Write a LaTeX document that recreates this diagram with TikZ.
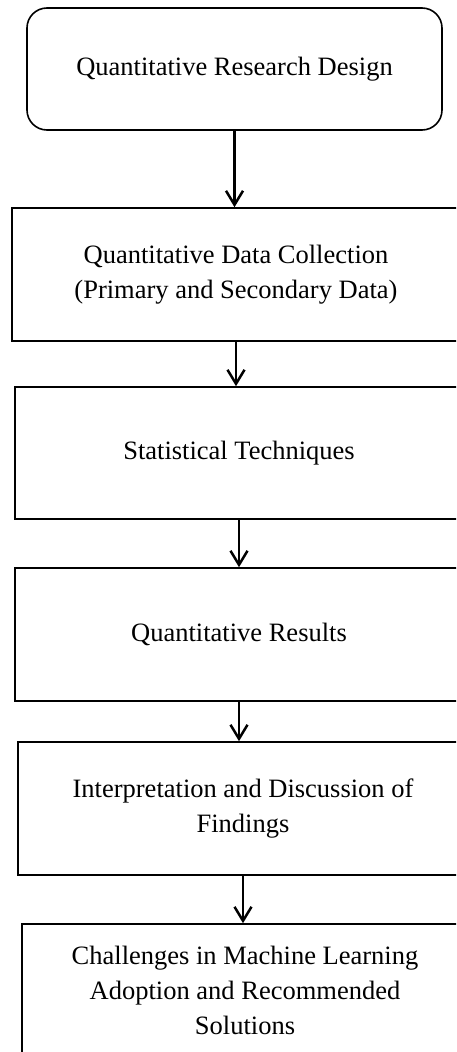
\documentclass[tikz,border=0pt]{standalone}
\usepackage{fontspec}
\setmainfont{Liberation Serif}
\usetikzlibrary{arrows.meta}
\begin{document}
\begin{tikzpicture}[x=1pt,y=-1pt,
  box/.style={draw=black, line width=1.6pt, inner sep=0pt, align=center,
    font=\fontsize{26.5}{35}\selectfont, fill=white},
  flow/.style={line width=2.5pt, -{Straight Barb[length=14pt,width=17pt,line width=2.5pt]}}]
\useasboundingbox (0,0) rectangle (456,1052);
\clip (0,0) rectangle (456,1052);
\fill[white] (0,0) rectangle (456,1052);
\node[box, rounded corners=20pt, minimum width=415pt, minimum height=122pt] (b1) at (234.5,69) {Quantitative Research Design};
\node[box, minimum width=448pt, minimum height=133pt] (b2) at (236,274.5) {Quantitative Data Collection\\(Primary and Secondary Data)};
\node[box, minimum width=448pt, minimum height=132pt] (b3) at (239,453) {Statistical Techniques};
\node[box, minimum width=448pt, minimum height=133pt] (b4) at (239,634.5) {Quantitative Results};
\node[box, minimum width=450pt, minimum height=133pt] (b5) at (243,808.5) {Interpretation and Discussion of\\Findings};
\node[box, minimum width=446pt, minimum height=132pt] (b6) at (245,990) {Challenges in Machine Learning\\Adoption and Recommended\\Solutions};
\draw[flow] (b1.south) -- (b1.south |- b2.north);
\draw[flow] (b2.south) -- (b2.south |- b3.north);
\draw[flow] (b3.south) -- (b3.south |- b4.north);
\draw[flow] (b4.south) -- (b4.south |- b5.north);
\draw[flow] (b5.south) -- (b5.south |- b6.north);
\end{tikzpicture}
\end{document}
